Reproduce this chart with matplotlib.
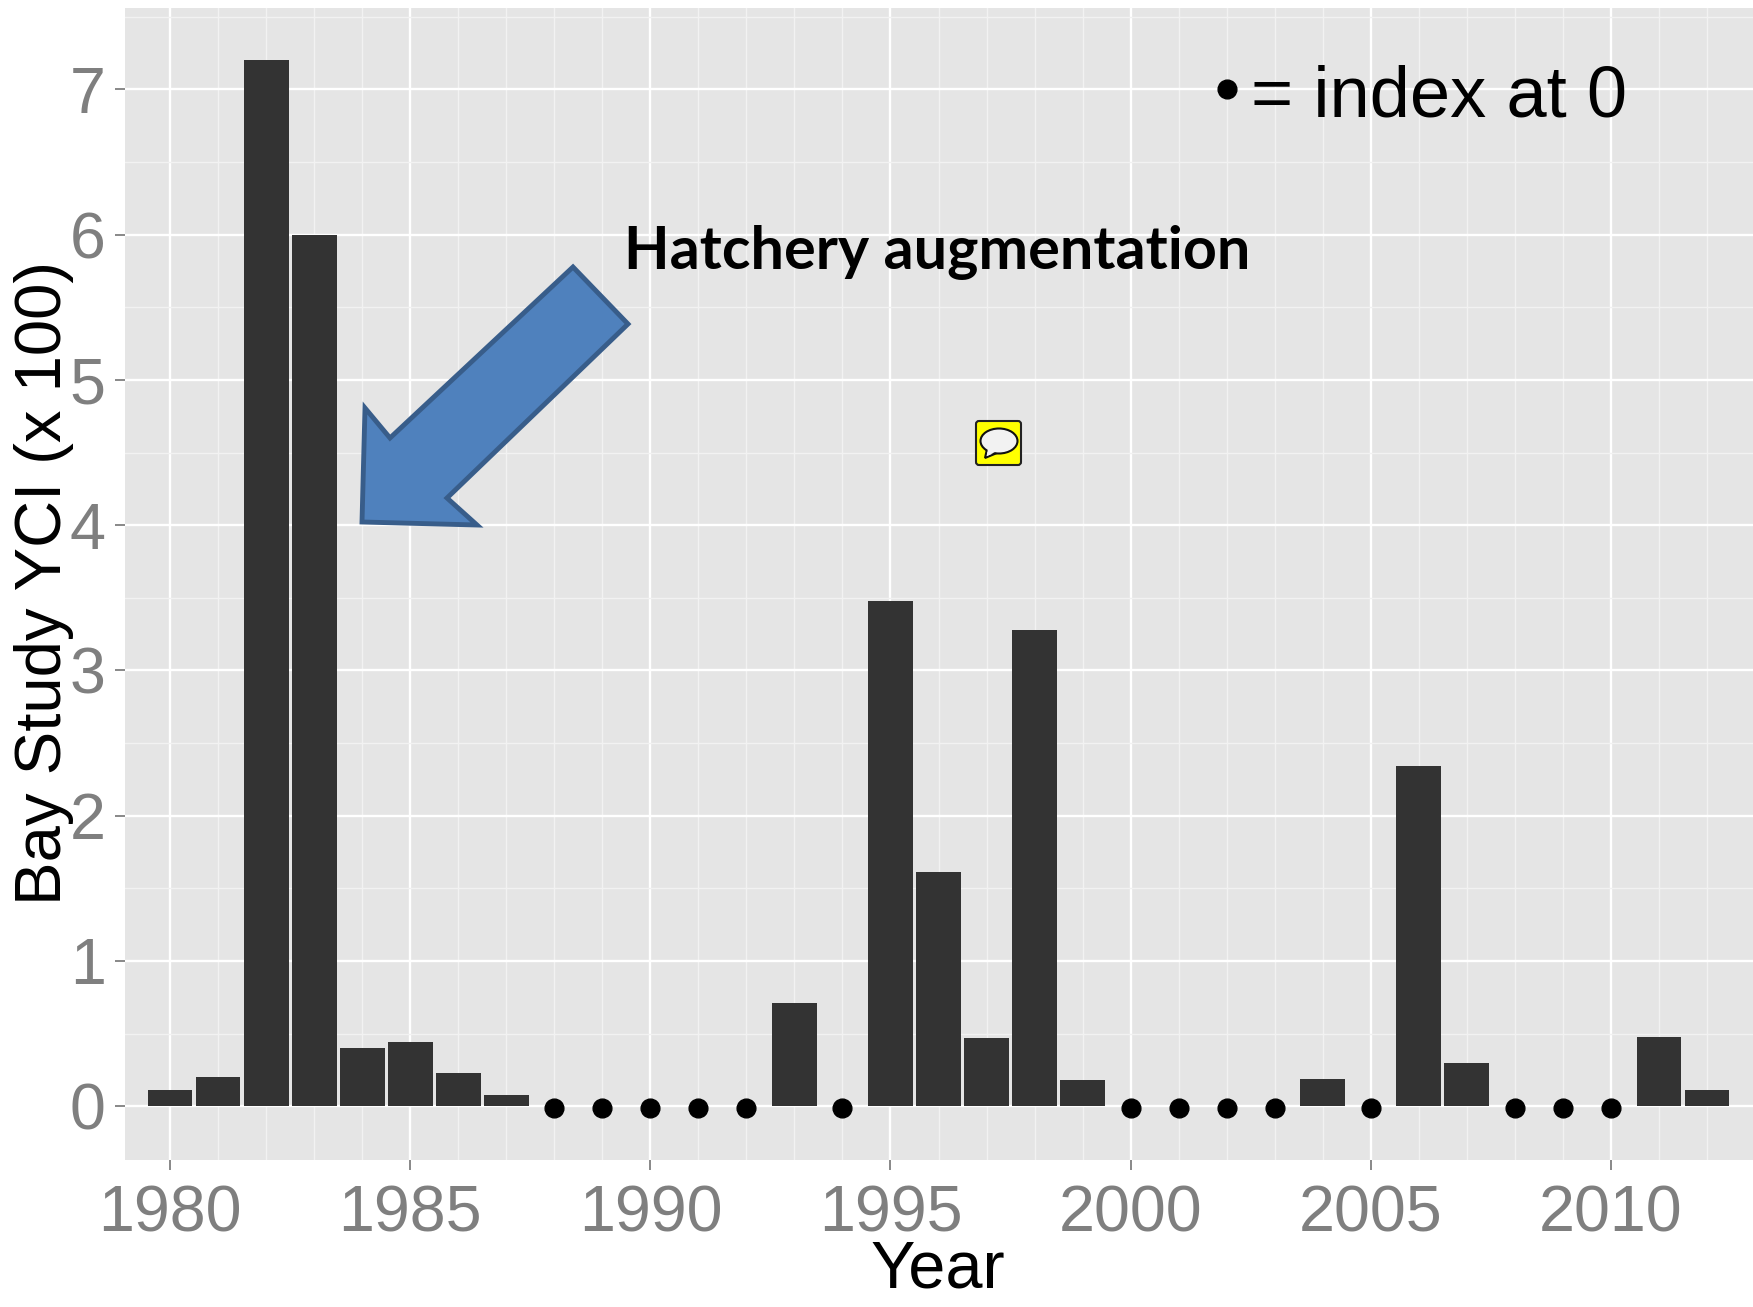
import matplotlib
matplotlib.use('Agg')
from matplotlib import pyplot as plt
from matplotlib.patches import Polygon, FancyBboxPatch, Ellipse

bar_years = [1980, 1981, 1982, 1983, 1984, 1985, 1986, 1987, 1993, 1995, 1996,
             1997, 1998, 1999, 2004, 2006, 2007, 2011, 2012]
bar_values = [0.11, 0.20, 7.20, 6.00, 0.40, 0.44, 0.23, 0.08, 0.71, 3.48, 1.61,
              0.47, 3.28, 0.18, 0.19, 2.34, 0.30, 0.48, 0.11]
zero_years = [1988, 1989, 1990, 1991, 1992, 1994, 2000, 2001, 2002, 2003, 2005,
              2008, 2009, 2010]
zero_values = [-0.01] * len(zero_years)

x_ticks = [1980, 1985, 1990, 1995, 2000, 2005, 2010]
y_ticks = [0, 1, 2, 3, 4, 5, 6, 7]

# overlay shapes, in full size image pixels
arrow_shape = [(573, 267), (628, 324), (447, 498), (477, 525), (362, 522),
               (365, 408), (390, 438)]

plt.rcParams['font.family'] = ['Liberation Sans', 'DejaVu Sans']

fig = plt.figure(figsize=(17.53, 13.07), dpi=100)
ax = fig.add_axes([125 / 1753, 1 - 1160 / 1307, 1628 / 1753, 1152 / 1307])
ax.set_facecolor('#E5E5E5')
for s in ax.spines.values():
    s.set_visible(False)

ax.set_axisbelow(True)
ax.set_xticks(x_ticks)
ax.set_yticks(y_ticks)
ax.set_xticks([y for y in range(1980, 2013) if y not in x_ticks], minor=True)
ax.set_yticks([v + 0.5 for v in y_ticks], minor=True)
ax.grid(which='major', color='white', linewidth=1.7)
ax.grid(which='minor', color='#F2F2F2', linewidth=1.0)
ax.tick_params(which='minor', length=0)
ax.tick_params(which='major', length=7, width=1.3, color='#7F7F7F',
               labelcolor='#7F7F7F', labelsize=46.5, pad=9)
ax.tick_params(axis='x', pad=11)
ax.tick_params(axis='y', pad=7)

ax.bar(bar_years, bar_values, width=0.93, color='#333333', zorder=3)
ax.plot(zero_years, zero_values, 'o', color='black', markersize=13.5, zorder=3)

ax.set_xlim(1979.06, 2012.96)
ax.set_ylim(-0.37, 7.56)

fig.text(938 / 1753, 1 - 1271 / 1307, 'Year', fontsize=48, color='black',
         ha='center', va='center')
fig.text(44 / 1753, 1 - 583 / 1307, 'Bay Study YCI (x 100)', fontsize=47,
         color='black', rotation=90, ha='center', va='center')

# overlay for the hand drawn bits
ov = fig.add_axes([0, 0, 1, 1])
ov.set_xlim(0, 1753)
ov.set_ylim(1307, 0)
ov.axis('off')
ov.patch.set_alpha(0)

ov.add_patch(Polygon(arrow_shape, closed=True, facecolor='#4F81BD',
                     edgecolor='#385D8A', linewidth=3.5, joinstyle='miter'))
ov.text(624, 252, 'Hatchery augmentation', fontsize=42.7, fontweight='bold',
        family=['Lato', 'DejaVu Sans'], color='black', ha='left', va='center')

ov.plot([1227], [89], 'o', color='black', markersize=13.5)
ov.text(1251, 98, '= index at 0', fontsize=52, color='black', ha='left', va='center')

# comment icon
ov.add_patch(FancyBboxPatch((976, 421), 45, 44, boxstyle='round,pad=0,rounding_size=3',
                            facecolor='#FFFF00', edgecolor='#222222', linewidth=1.5))
ov.add_patch(Polygon([(987, 449), (985, 458), (997, 453)], closed=True,
                     facecolor='#F2F2F2', edgecolor='#111111', linewidth=1.5))
ov.add_patch(Ellipse((999, 441), 37, 25, facecolor='#F2F2F2', edgecolor='#111111',
                     linewidth=1.5))
ov.add_patch(Polygon([(988, 447), (987, 456), (997, 451)], closed=True,
                     facecolor='#F2F2F2', edgecolor='none'))

fig.savefig('out.png', dpi=100)
